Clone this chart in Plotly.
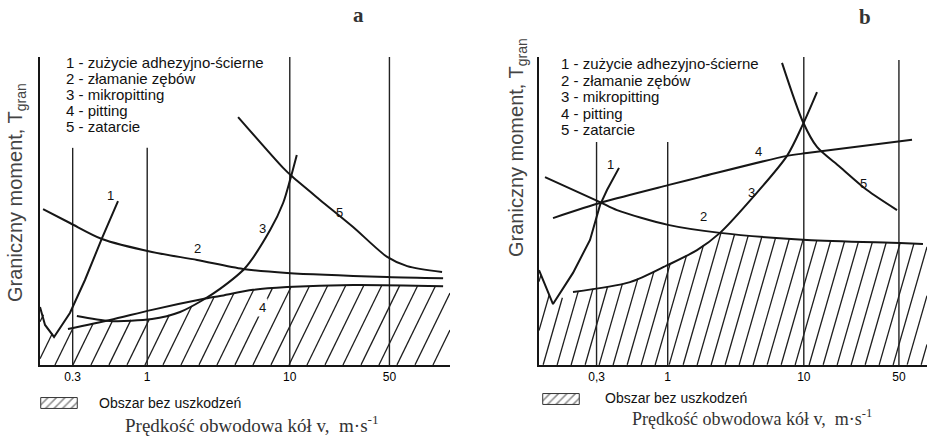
import math
import numpy as np
import plotly.graph_objects as go

W, H = 930, 438

# ---------------- data ----------------
tick_vals = [0.3, 1, 10, 50]
tick_text_a = ["0.3", "1", "10", "50"]
tick_text_b = ["0,3", "1", "10", "50"]
vline_top_a = [70.5, 70.5, 100, 100]
vline_top_b = [72.4, 72.4, 100, 99]

legend_lines = [
    "1 - zużycie adhezyjno-ścierne",
    "2 - złamanie zębów",
    "3 - mikropitting",
    "4 - pitting",
    "5 - zatarcie",
]
curve_labels = ["1", "2", "3", "4", "5"]
safe_label = "Obszar bez uszkodzeń"

# panel a  (v in m/s, T in arbitrary units 0..100)
a1_v = [0.177, 0.192, 0.222, 0.287, 0.366, 0.482, 0.624]
a1_t = [18.8, 13.0, 9.1, 16.9, 27.6, 41.2, 53.2]
a2_v = [0.186, 0.287, 0.482, 1.08, 2.24, 4.70, 9.57, 48.2, 119]
a2_t = [50.6, 46.1, 40.9, 36.7, 34.1, 31.2, 29.9, 28.6, 28.2]
a3_v = [0.321, 0.548, 1.08, 1.70, 2.46, 3.24, 4.86, 7.28, 8.98, 10.05, 11.2]
a3_t = [15.9, 14.3, 14.9, 17.2, 21.1, 24.7, 31.5, 43.8, 52.6, 60.1, 68.2]
a4_v = [0.278, 0.548, 1.08, 2.46, 3.24, 5.53, 9.57, 27.8, 119]
a4_t = [11.7, 14.6, 17.9, 21.4, 22.4, 24.4, 25.3, 26.0, 25.6]
a5_v = [4.34, 8.98, 10.5, 16.3, 27.8, 48.2, 66.6, 117]
a5_t = [80.5, 64.0, 61.0, 53.6, 44.8, 35.1, 32.1, 30.2]
a_safe_v = [0.177, 0.222, 0.244, 0.278, 0.548, 1.08, 1.70, 2.46, 3.24, 5.53, 9.57, 27.8, 119, 133]
a_safe_t = [18.8, 9.1, 11.4, 11.7, 14.4, 14.9, 17.2, 21.1, 22.4, 24.4, 25.3, 26.0, 25.6, 25.6]

# panel b
b1_v = [0.1133, 0.1436, 0.2014, 0.2686, 0.318, 0.358, 0.4387]
b1_t = [30.8, 19.8, 29.9, 40.6, 51.9, 56.8, 64.0]
b2_v = [0.1254, 0.318, 0.424, 1.005, 2.423, 10.56, 50.9, 75.1]
b2_t = [61.0, 52.9, 50.3, 45.5, 42.9, 40.6, 39.6, 39.3]
b3_v = [0.2014, 0.5284, 1.005, 1.642, 2.423, 4.234, 7.525, 9.864, 12.5]
b3_t = [23.7, 26.9, 32.5, 37.3, 42.9, 54.5, 67.9, 78.2, 88.6]
b4_v = [0.1436, 0.3345, 1.005, 1.727, 7.525, 10.56, 62.4]
b4_t = [47.7, 52.9, 58.4, 61.0, 67.9, 68.8, 73.1]
b5_v = [6.917, 9.864, 12.5, 18.45, 29.13, 48.4]
b5_t = [98.1, 78.9, 70.8, 64.3, 56.8, 50.3]
b_safe_v = [0.1133, 0.1436, 0.176, 0.2014, 0.5284, 1.005, 1.642, 2.423, 10.56, 50.9, 80.4]
b_safe_t = [30.8, 19.8, 22.4, 23.7, 26.9, 32.5, 37.3, 42.9, 40.6, 39.6, 39.3]

x_range_a = [0.177, 133]
x_range_b = [0.1133, 80.4]
y_range = [0, 100]

# ---------------- style / layout geometry ----------------
INK = "#161616"
SANS = "Liberation Sans, Arial, sans-serif"
SERIF = "Liberation Serif, Times New Roman, serif"

dom_a = (40, 450)     # px
dom_b = (539, 927)    # px
dom_y = (57, 365)     # px (top, bottom)
hatch_a = dict(angle=64, spacing=18)   # hatching style in px / degrees
hatch_b = dict(angle=74, spacing=14)


def px(x):
    return x / W


def py(y):
    return 1 - y / H


def hatch_lines(bv, bt, xr, dom, style):
    """Diagonal hatching under the boundary (bv, bt), computed in axis space."""
    u0r, u1r = math.log10(xr[0]), math.log10(xr[1])
    px_per_dec = (dom[1] - dom[0]) / (u1r - u0r)
    px_per_t = (dom_y[1] - dom_y[0]) / (y_range[1] - y_range[0])
    k = math.tan(math.radians(style["angle"])) * px_per_dec / px_per_t
    du = style["spacing"] / px_per_dec
    ug = np.linspace(u0r, u1r, 4000)
    bg = np.interp(ug, np.log10(bv), bt)
    xs, ys = [], []
    start = u0r - bg.max() / k
    n = int(math.ceil((u1r - start) / du)) + 1
    for j in range(n):
        u0 = start + j * du
        lt = k * (ug - u0)
        mask = (lt >= 0) & (lt <= bg)
        if not mask.any():
            continue
        idx = np.flatnonzero(mask)
        breaks = np.flatnonzero(np.diff(idx) > 1)
        runs_s = np.r_[idx[0], idx[breaks + 1]]
        runs_e = np.r_[idx[breaks], idx[-1]]
        for s, e in zip(runs_s, runs_e):
            if e <= s:
                continue
            xs += [10 ** ug[s], 10 ** ug[e], None]
            ys += [max(lt[s], 0), lt[e], None]
    return xs, ys


fig = go.Figure()

panels = [
    dict(xa="x", ya="y", safe=(a_safe_v, a_safe_t), xr=x_range_a, dom=dom_a, hs=hatch_a,
         curves=[(a1_v, a1_t, "linear"), (a2_v, a2_t, "spline"), (a3_v, a3_t, "spline"),
                 (a4_v, a4_t, "spline"), (a5_v, a5_t, "spline")],
         tops=vline_top_a),
    dict(xa="x2", ya="y2", safe=(b_safe_v, b_safe_t), xr=x_range_b, dom=dom_b, hs=hatch_b,
         curves=[(b1_v, b1_t, "linear"), (b2_v, b2_t, "spline"), (b3_v, b3_t, "spline"),
                 (b4_v, b4_t, "spline"), (b5_v, b5_t, "spline")],
         tops=vline_top_b),
]

for p in panels:
    sv, st = p["safe"]
    hx, hy = hatch_lines(sv, st, p["xr"], p["dom"], p["hs"])
    fig.add_trace(go.Scatter(x=hx, y=hy, mode="lines", connectgaps=False,
                             line=dict(color="#1e1e1e", width=1.3),
                             xaxis=p["xa"], yaxis=p["ya"], showlegend=False, hoverinfo="skip"))
    for v, top in zip(tick_vals, p["tops"]):
        fig.add_trace(go.Scatter(x=[v, v], y=[0, top], mode="lines",
                                 line=dict(color="#222", width=1.4),
                                 xaxis=p["xa"], yaxis=p["ya"], showlegend=False, hoverinfo="skip"))
    for cv, ct, shp in p["curves"]:
        fig.add_trace(go.Scatter(x=cv, y=ct, mode="lines",
                                 line=dict(color=INK, width=2.0, shape=shp, smoothing=0.8),
                                 xaxis=p["xa"], yaxis=p["ya"], showlegend=False))

# legend swatches (small hidden axes)
for xa, ya in (("x3", "y3"), ("x4", "y4")):
    fig.add_trace(go.Scatter(x=[0, 1, 1, 0, 0], y=[0, 0, 1, 1, 0], mode="lines", fill="toself",
                             line=dict(color="#333", width=1),
                             fillcolor="rgba(0,0,0,0)",
                             fillpattern=dict(shape="/", fgcolor="#111", bgcolor="rgba(0,0,0,0)",
                                              size=6, solidity=0.25),
                             xaxis=xa, yaxis=ya, showlegend=False, hoverinfo="skip"))

ydom = [py(dom_y[1]), py(dom_y[0])]
axis_common = dict(showgrid=False, zeroline=False, showline=True, linecolor=INK, linewidth=1.7,
                   ticks="", mirror=False)
fig.update_layout(
    width=W, height=H, margin=dict(l=0, r=0, t=0, b=0),
    paper_bgcolor="white", plot_bgcolor="white", showlegend=False,
    xaxis=dict(domain=[px(dom_a[0]), px(dom_a[1])], type="log",
               range=[math.log10(x_range_a[0]), math.log10(x_range_a[1])],
               tickvals=tick_vals, ticktext=tick_text_a, anchor="y",
               tickfont=dict(family=SANS, size=12, color="#000"), **axis_common),
    yaxis=dict(domain=ydom, range=y_range, showticklabels=False, anchor="x", **axis_common),
    xaxis2=dict(domain=[px(dom_b[0]), px(dom_b[1])], type="log",
                range=[math.log10(x_range_b[0]), math.log10(x_range_b[1])],
                tickvals=tick_vals, ticktext=tick_text_b, anchor="y2",
                tickfont=dict(family=SANS, size=12, color="#000"), **axis_common),
    yaxis2=dict(domain=ydom, range=y_range, showticklabels=False, anchor="x2", **axis_common),
    xaxis3=dict(domain=[px(40), px(78)], range=[-0.02, 1.02], visible=False, anchor="y3"),
    yaxis3=dict(domain=[py(409), py(397)], range=[-0.05, 1.05], visible=False, anchor="x3"),
    xaxis4=dict(domain=[px(542), px(580)], range=[-0.02, 1.02], visible=False, anchor="y4"),
    yaxis4=dict(domain=[py(405), py(393)], range=[-0.05, 1.05], visible=False, anchor="x4"),
)

ann = []


def text(x, y, s, size, family=SANS, color="#111", xanchor="center", angle=0, **kw):
    ann.append(dict(x=px(x), y=py(y), xref="paper", yref="paper", text=s, showarrow=False,
                    font=dict(family=family, size=size, color=color), xanchor=xanchor,
                    yanchor="middle", textangle=angle, **kw))


# key texts
for i, s in enumerate(legend_lines):
    text(64, 62 + 16.2 * i, s, 15, xanchor="left")
    text(559, 63.5 + 16.6 * i, s, 15, xanchor="left")

# curve numbers
lab_a = [(110, 195), (197, 248), (262, 228), (262, 307), (339, 213)]
lab_b = [(610, 164), (703, 216), (751, 192), (758, 151), (863, 183)]
for s, (x, y) in zip(curve_labels, lab_a):
    text(x, y, s, 13, bgcolor="white" if s == "4" else None)
for s, (x, y) in zip(curve_labels, lab_b):
    text(x, y, s, 13)

# safe region key
text(97, 403, safe_label, 14, xanchor="left")
text(603, 398, safe_label, 14, xanchor="left")

# axis titles
ytitle = "Graniczny moment, T<sub>gran</sub>"
text(16, 193, ytitle, 20, color="#444", angle=-90)
text(517, 148, ytitle, 20, color="#444", angle=-90)
xtitle = "Prędkość obwodowa kół v,&nbsp;&nbsp;m·s<sup>-1</sup>"
text(252, 424, xtitle, 19, family=SERIF, color="#333")
text(752, 417, xtitle, 18, family=SERIF, color="#333")

# panel letters
text(358, 15, "<b>a</b>", 21, family=SERIF, color="#333")
text(865, 17, "<b>b</b>", 21, family=SERIF, color="#333")

fig.update_layout(annotations=ann)
fig.write_html("out.html", config={"displayModeBar": False},
               post_script="document.body.style.margin='0px';document.body.style.overflow='hidden';")
